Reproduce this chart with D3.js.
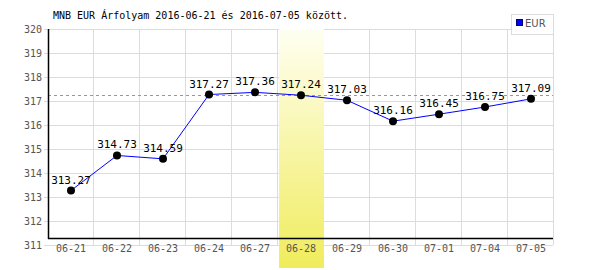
<!DOCTYPE html>
<html>
<head>
<meta charset="utf-8">
<script src="https://cdn.jsdelivr.net/npm/d3@7"></script>
<style>
  body { margin: 0; background: #fff; }
  svg { display: block; }
</style>
</head>
<body>
<svg id="chart" width="600" height="270"></svg>
<script>

var dates = [ '06-21', '06-22', '06-23', '06-24', '06-27', '06-28', '06-29', '06-30', '07-01', '07-04', '07-05' ];
var rates = [ 313.27, 314.73, 314.59, 317.27, 317.36, 317.24, 317.03, 316.16, 316.45, 316.75, 317.09 ];
var y_ticks = [ 311, 312, 313, 314, 315, 316, 317, 318, 319, 320 ];
var selected_date = '06-28';
var series_name = 'EUR';
var title_text = 'MNB EUR Árfolyam 2016-06-21 és 2016-07-05 között.';

var mono = 'DejaVu Sans Mono, monospace';

var svg = d3.select( '#chart' );

var plot_left = 48, plot_right = 554, plot_top = 29, plot_bottom = 245, axis_y = 238;

var x = d3.scaleBand()
    .domain( dates )
    .range( [ plot_left, plot_right ] )
    .padding( 0 );

var y = d3.scaleLinear()
    .domain( [ 311, 320 ] )
    .range( [ plot_bottom, plot_top ] );

var defs = svg.append( 'defs' );
var grad = defs.append( 'linearGradient' )
    .attr( 'id', 'hl' )
    .attr( 'x1', 0 ).attr( 'y1', 0 )
    .attr( 'x2', 0 ).attr( 'y2', 1 );
grad.append( 'stop' ).attr( 'offset', '0%' ).attr( 'stop-color', '#fffff2' );
grad.append( 'stop' ).attr( 'offset', '100%' ).attr( 'stop-color', '#f0ec5c' );

// Grid
var grid = svg.append( 'g' ).attr( 'shape-rendering', 'crispEdges' );

grid.selectAll( 'line.h' )
    .data( y_ticks )
    .enter().append( 'line' )
    .attr( 'class', 'h' )
    .attr( 'x1', plot_left - 4 )
    .attr( 'x2', plot_right - 1 )
    .attr( 'y1', function ( d ) { return Math.round( y( d ) ) + 0.5; } )
    .attr( 'y2', function ( d ) { return Math.round( y( d ) ) + 0.5; } )
    .attr( 'stroke', '#dcdcdc' );

grid.selectAll( 'line.v' )
    .data( dates )
    .enter().append( 'line' )
    .attr( 'class', 'v' )
    .attr( 'x1', function ( d ) { return Math.round( x( d ) + x.bandwidth() ) - 0.5; } )
    .attr( 'x2', function ( d ) { return Math.round( x( d ) + x.bandwidth() ) - 0.5; } )
    .attr( 'y1', plot_top )
    .attr( 'y2', plot_bottom )
    .attr( 'stroke', '#dcdcdc' );

// Highlighted day
svg.append( 'rect' )
    .attr( 'x', x( selected_date ) + 1 )
    .attr( 'y', plot_top )
    .attr( 'width', x.bandwidth() - 1 )
    .attr( 'height', 268 - plot_top )
    .attr( 'fill', 'url(#hl)' );

// Reference line at the selected day's rate
var sel_value = rates[ dates.indexOf( selected_date ) ];
svg.append( 'line' )
    .attr( 'x1', plot_left )
    .attr( 'x2', plot_right - 1 )
    .attr( 'y1', Math.round( y( sel_value ) ) + 0.5 )
    .attr( 'y2', Math.round( y( sel_value ) ) + 0.5 )
    .attr( 'stroke', '#8c8cf0' )
    .attr( 'stroke-dasharray', '3,3' );

// Axes lines
svg.append( 'line' )
    .attr( 'x1', plot_left + 0.5 ).attr( 'x2', plot_left + 0.5 )
    .attr( 'y1', plot_top ).attr( 'y2', axis_y + 1 )
    .attr( 'stroke', '#000' ).attr( 'stroke-width', 1.5 );

svg.append( 'line' )
    .attr( 'x1', plot_left ).attr( 'x2', plot_right - 1 )
    .attr( 'y1', axis_y + 0.5 ).attr( 'y2', axis_y + 0.5 )
    .attr( 'stroke', '#000' ).attr( 'stroke-width', 1.5 );

// Y labels
svg.selectAll( 'text.ylab' )
    .data( y_ticks )
    .enter().append( 'text' )
    .attr( 'class', 'ylab' )
    .attr( 'x', plot_left - 6 )
    .attr( 'y', function ( d ) { return y( d ) + 4; } )
    .attr( 'text-anchor', 'end' )
    .attr( 'font-family', mono )
    .attr( 'font-size', '10px' )
    .attr( 'fill', '#555' )
    .text( function ( d ) { return d; } );

// X labels
svg.selectAll( 'text.xlab' )
    .data( dates )
    .enter().append( 'text' )
    .attr( 'class', 'xlab' )
    .attr( 'x', function ( d ) { return x( d ) + x.bandwidth() / 2; } )
    .attr( 'y', 252 )
    .attr( 'text-anchor', 'middle' )
    .attr( 'font-family', mono )
    .attr( 'font-size', '10px' )
    .attr( 'fill', '#555' )
    .text( function ( d ) { return d; } );

// Series
var data = d3.zip( dates, rates );

var line = d3.line()
    .x( function ( d ) { return x( d[0] ) + x.bandwidth() / 2; } )
    .y( function ( d ) { return y( d[1] ); } );

svg.append( 'path' )
    .datum( data )
    .attr( 'd', line )
    .attr( 'fill', 'none' )
    .attr( 'stroke', '#0000ff' )
    .attr( 'stroke-width', 1 );

svg.selectAll( 'circle.pt' )
    .data( data )
    .enter().append( 'circle' )
    .attr( 'class', 'pt' )
    .attr( 'cx', function ( d ) { return x( d[0] ) + x.bandwidth() / 2; } )
    .attr( 'cy', function ( d ) { return y( d[1] ); } )
    .attr( 'r', 4 )
    .attr( 'fill', '#000' );

svg.selectAll( 'text.val' )
    .data( data )
    .enter().append( 'text' )
    .attr( 'class', 'val' )
    .attr( 'x', function ( d ) { return x( d[0] ) + x.bandwidth() / 2; } )
    .attr( 'y', function ( d ) { return y( d[1] ) - 7; } )
    .attr( 'text-anchor', 'middle' )
    .attr( 'font-family', mono )
    .attr( 'font-size', '11px' )
    .attr( 'fill', '#000' )
    .text( function ( d ) { return d[1].toFixed( 2 ); } );

// Title
svg.append( 'text' )
    .attr( 'x', 53 )
    .attr( 'y', 19 )
    .attr( 'font-family', mono )
    .attr( 'font-size', '10px' )
    .attr( 'fill', '#000' )
    .text( title_text );

// Legend
var legend = svg.append( 'g' ).attr( 'shape-rendering', 'crispEdges' );
legend.append( 'rect' )
    .attr( 'x', 511.5 ).attr( 'y', 14.5 )
    .attr( 'width', 42 ).attr( 'height', 20 )
    .attr( 'fill', '#fff' )
    .attr( 'stroke', '#dcdcdc' );
legend.append( 'rect' )
    .attr( 'x', 516.5 ).attr( 'y', 19.5 )
    .attr( 'width', 6 ).attr( 'height', 6 )
    .attr( 'fill', '#0000ff' )
    .attr( 'stroke', '#000080' );
legend.append( 'text' )
    .attr( 'x', 525 )
    .attr( 'y', 27 )
    .attr( 'font-family', 'DejaVu Sans, sans-serif' )
    .attr( 'font-size', '10px' )
    .attr( 'fill', '#555' )
    .text( series_name );

</script>
</body>
</html>
